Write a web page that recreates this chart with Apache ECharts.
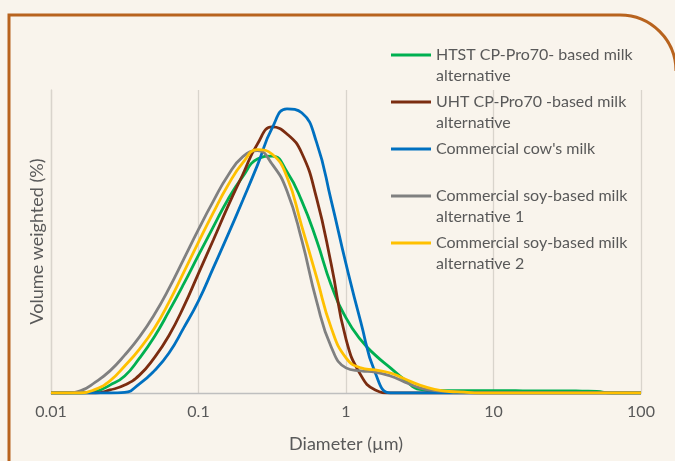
<!DOCTYPE html>
<html>
<head>
<meta charset="utf-8">
<script src="https://cdn.jsdelivr.net/npm/echarts@6/dist/echarts.min.js"></script>
<style>
  html, body { margin: 0; padding: 0; background: #f9f4ec; }
  #chart { width: 675px; height: 461px; }
</style>
</head>
<body>
<div id="chart"></div>
<script>
// ---- data: diameter bins (µm) and volume weighted (%) per sample ----
const tickLabels = ['0.01', '0.1', '1', '10', '100'];
const diameters = [
  0.01, 0.0126, 0.0158, 0.02, 0.0251, 0.0316, 0.0398, 0.0501, 0.0631, 0.0794,
  0.1, 0.126, 0.158, 0.2, 0.251, 0.316, 0.398, 0.501, 0.631, 0.794,
  1, 1.26, 1.58, 2.0, 2.51, 3.16, 3.98, 5.01, 6.31, 7.94,
  10, 12.6, 15.8, 20, 25.1, 31.6, 39.8, 50.1, 63.1, 79.4, 100
];
const htst = [
  0, 0, 0, 0.05, 0.26, 0.56, 1.15, 1.85, 2.70, 3.60,
  4.55, 5.48, 6.38, 7.15, 7.72, 7.82, 7.30, 6.34, 5.05, 3.56,
  2.48, 1.75, 1.25, 0.83, 0.43, 0.12, 0.08, 0.08, 0.08, 0.08,
  0.08, 0.08, 0.07, 0.07, 0.07, 0.07, 0.06, 0.05, 0, 0, 0
];
const uht = [
  0, 0, 0, 0, 0.10, 0.26, 0.59, 1.16, 1.90, 2.85,
  3.95, 5.05, 6.15, 7.22, 8.22, 8.78, 8.55, 7.92, 6.44, 4.25,
  1.78, 0.59, 0.10, 0, 0, 0, 0, 0, 0, 0,
  0, 0, 0, 0, 0, 0, 0, 0, 0, 0, 0
];
const cow = [
  0, 0, 0, 0, 0, 0.02, 0.30, 0.73, 1.32, 2.15,
  3.04, 4.13, 5.21, 6.37, 7.52, 8.75, 9.38, 9.25, 8.28, 6.35,
  4.26, 2.34, 0.66, 0, 0, 0, 0, 0, 0, 0,
  0, 0, 0, 0, 0, 0, 0, 0, 0, 0, 0
];
const soy1 = [
  0, 0, 0.07, 0.36, 0.73, 1.25, 1.85, 2.58, 3.45, 4.42,
  5.40, 6.33, 7.17, 7.80, 8.00, 7.55, 6.67, 5.05, 3.04, 1.52,
  0.83, 0.73, 0.69, 0.56, 0.36, 0.17, 0.08, 0.05, 0.03, 0,
  0, 0, 0, 0, 0, 0, 0, 0, 0, 0, 0
];
const soy2 = [
  0, 0, 0, 0.12, 0.40, 0.89, 1.45, 2.13, 3.00, 3.98,
  4.98, 5.95, 6.85, 7.60, 8.03, 7.88, 7.13, 5.51, 3.83, 2.15,
  1.16, 0.83, 0.76, 0.66, 0.46, 0.26, 0.12, 0.05, 0.03, 0,
  0, 0, 0, 0, 0, 0, 0, 0, 0, 0, 0
];
const seriesNames = [
  'HTST CP-Pro70- based milk alternative',
  'UHT CP-Pro70 -based milk alternative',
  "Commercial cow's milk",
  'Commercial soy-based milk alternative 1',
  'Commercial soy-based milk alternative 2'
];
const legendLabels = [
  ' \nHTST CP-Pro70- based milk\nalternative',
  ' \nUHT CP-Pro70 -based milk\nalternative',
  " \nCommercial cow's milk\n ",
  ' \nCommercial soy-based milk\nalternative 1',
  ' \nCommercial soy-based milk\nalternative 2'
];
const seriesValues = [htst, uht, cow, soy1, soy2];
const seriesColors = ['#00B050', '#7B2C10', '#0070C0', '#808080', '#FFC000'];

function pairs(vals) {
  return diameters.map(function (d, i) { return [d, vals[i]]; });
}

const FONT = 'Lato, "Open Sans", sans-serif';
const chart = echarts.init(document.getElementById('chart'));
chart.setOption({
  backgroundColor: '#f9f4ec',
  animation: false,
  graphic: [{
    type: 'polyline',
    shape: { points: [[9, 470], [9, 15], [620, 15]] },
    style: { fill: null, stroke: '#B8631E', lineWidth: 3 },
    z: 0
  }, {
    type: 'arc',
    shape: { cx: 620, cy: 71, r: 56, startAngle: -Math.PI / 2, endAngle: 0, clockwise: true },
    style: { fill: null, stroke: '#B8631E', lineWidth: 3 },
    z: 0
  }],
  grid: { left: 51, right: 34, top: 90, bottom: 68 },
  legend: {
    orient: 'vertical',
    left: 391,
    top: 23.5,
    padding: 0,
    itemGap: -16,
    itemWidth: 40,
    itemHeight: 3,
    icon: 'rect',
    data: seriesNames,
    formatter: function (name) { return legendLabels[seriesNames.indexOf(name)]; },
    textStyle: { fontFamily: FONT, fontSize: 16, color: '#595959', lineHeight: 21 }
  },
  xAxis: {
    type: 'log', logBase: 10, min: 0.01, max: 100,
    name: 'Diameter (µm)', nameLocation: 'middle', nameGap: 42,
    nameTextStyle: { fontFamily: FONT, fontSize: 18, color: '#595959' },
    axisLine: { lineStyle: { color: '#BFBFBF', width: 1.3 } },
    axisTick: { show: false },
    axisLabel: {
      fontFamily: FONT, fontSize: 16, color: '#595959', margin: 11,
      formatter: function (v) { return tickLabels[Math.round(Math.log10(v)) + 2]; }
    },
    splitLine: { show: true, lineStyle: { color: '#D9D4CC', width: 1.3 } }
  },
  yAxis: {
    type: 'value', min: 0, max: 10,
    name: 'Volume weighted (%)', nameLocation: 'middle', nameGap: 5,
    nameTextStyle: { fontFamily: FONT, fontSize: 18, color: '#595959' },
    axisLine: { show: true, lineStyle: { color: '#D9D4CC', width: 1.3 } },
    axisTick: { show: false },
    axisLabel: { show: false },
    splitLine: { show: false }
  },
  series: seriesNames.map(function (n, i) {
    return {
      name: n, type: 'line', data: pairs(seriesValues[i]), symbol: 'none',
      smooth: 0.5,
      lineStyle: { color: seriesColors[i], width: 2.8 },
      itemStyle: { color: seriesColors[i] }
    };
  })
});
</script>
</body>
</html>
